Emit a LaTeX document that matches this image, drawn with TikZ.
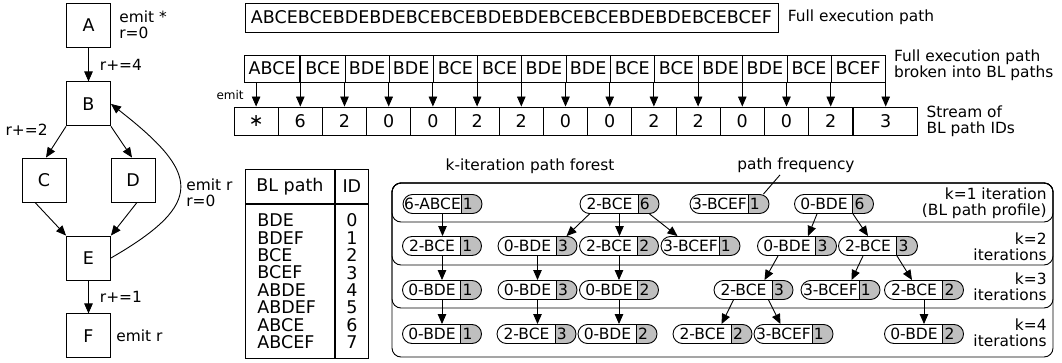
\documentclass[tikz,border=0pt]{standalone}
\usepackage{fontspec}
\setmainfont{DejaVu Sans}
\usetikzlibrary{arrows.meta,positioning}

\tikzset{
  blocknode/.style={draw, minimum width=44pt, minimum height=44pt,
                    font=\fontsize{17.5}{20}\selectfont},
  cellnode/.style={draw, inner sep=0pt,
                   font=\fontsize{17.5}{17.4}\selectfont},
  lblnode/.style={font=\fontsize{15.4}{16}\selectfont, inner sep=3pt},
  arr/.style={-{Triangle[length=10pt,width=8.5pt]}},
  pillnode/.style={draw, rounded corners=9.5pt, minimum height=19pt,
                   inner xsep=1pt, inner ysep=0pt,
                   font=\fontsize{15.5}{15.5}\selectfont,
                   path picture={
                     \fill[black!25, sharp corners]
                       ([xshift=-21pt]path picture bounding box.north east)
                       rectangle (path picture bounding box.south east);
                     \draw[sharp corners]
                       ([xshift=-21pt]path picture bounding box.north east)
                       -- ([xshift=-21pt]path picture bounding box.south east);}}
}

% path node of the forest: name, position, path, count
\newcommand\pillnode[4]{%
  \node[pillnode] (#1) at (#2) {\makebox[57pt]{#3}\makebox[20pt][l]{\hspace{2pt}#4}};}

\begin{document}
\begin{tikzpicture}[x=1pt,y=-1pt,line width=0.9pt]
\useasboundingbox (0,0) rectangle (1062,363);

%control flow graph
\node[blocknode] (A) at (88.5,25) {A};
\node[blocknode, below=34pt of A] (B) {B};
\node[blocknode] (C) at (44,180) {C};
\node[blocknode] (D) at (133,180) {D};
\node[blocknode] (E) at (88.5,258) {E};
\node[blocknode, below=33pt of E] (F) {F};

\draw[arr] (A) -- node[lblnode, right, xshift=8pt] {r+=4} (B);
\draw[arr] (B.south west) -- ([xshift=2pt]C.north);
\draw[arr] (B.south east) -- ([xshift=-1pt]D.north);
\draw[arr] ([xshift=-9pt]C.south) -- (E.north west);
\draw[arr] ([xshift=4pt]D.south) -- (E.north east);
\draw[arr] (E.east) to[out=30, in=-38, looseness=1.85]
   node[lblnode, right, align=left, xshift=3pt, yshift=-7pt] {emit r\\r=0} (B.east);
\draw[arr] (E) -- node[lblnode, right, xshift=8pt] {r+=1} (F);

\node[lblnode, right=5pt of A, align=left] (Alabel) {emit *\\r=0};
\node[lblnode, right=2pt of F] (Flabel) {emit r};
\node[lblnode, anchor=east] (BClabel) at ([xshift=-15pt,yshift=-3pt]B.south west) {r+=2};

%full path
\node[cellnode, minimum width=533pt, minimum height=29pt, inner xsep=2pt] (full)
   at (511.5,17.5) {ABCEBCEBDEBDEBCEBCEBDEBDEBCEBCEBDEBDEBCEBCEF};
\node[lblnode, right=6pt of full] (fullLabel) {Full execution path};

%stream of ids
\foreach \v [count=\i] in {∗,6,2,0,0,2,2,0,0,2,2,0,0,2}
  \node[cellnode, minimum width=44.2pt, minimum height=28pt] (s\i) at ({234+(\i-0.5)*44.2},121) {\v};
\node[cellnode, minimum width=64pt, minimum height=28pt, anchor=west] (s15) at (s14.east) {3};
\node[lblnode, right=5pt of s15, align=left] (streamLabel) {Stream of\\BL path IDs};

%BL paths
\coordinate (prow) at (0,68.5);
\node[cellnode, minimum width=55.3pt, minimum height=27pt, anchor=east] (p1) at (s2 |- prow) {ABCE};
\foreach \t [count=\i from 2] in {BCE,BDE,BDE,BCE,BCE,BDE,BDE,BCE,BCE,BDE,BDE,BCE}
  \node[cellnode, minimum width=44.2pt, minimum height=27pt] (p\i) at (s\i.east |- prow) {\t};
\node[cellnode, minimum width=54.1pt, minimum height=27pt, anchor=west] (p14) at (s14 |- prow) {BCEF};
\node[lblnode, right=5pt of p14, align=left, yshift=3pt] (pathsLabel) {Full execution path\\broken into BL paths};

\foreach \i in {1,...,15}
  \draw[arr] (s\i |- p1.south) -- (s\i.north);
\node[lblnode, anchor=east, font=\fontsize{12}{12}\selectfont] (emitLabel)
   at ([xshift=-9pt,yshift=12pt]s1.north) {emit};

%table of ids
\node[cellnode, minimum width=89pt, minimum height=34pt, anchor=north west] (th) at (245,169) {BL path};
\node[cellnode, minimum width=33pt, minimum height=34pt, anchor=west] (tid) at (th.east) {ID};
\node[cellnode, minimum width=89pt, minimum height=154pt, anchor=north west,
      text width=65pt, align=left] (tpaths) at (th.south west)
   {BDE\\BDEF\\BCE\\BCEF\\ABDE\\ABDEF\\ABCE\\ABCEF};
\node[cellnode, minimum width=33pt, minimum height=154pt, anchor=north west,
      align=center] (tids) at (tid.south west)
   {0\\1\\2\\3\\4\\5\\6\\7};

%forest frame
\foreach \yb in {222,265,308,357}
  \draw[rounded corners=9pt] (392,183) rectangle (1053,\yb);
\node[lblnode, anchor=east, align=right] (k1lbl) at (1050,203) {k=1 iteration\\(BL path profile)};
\node[lblnode, anchor=east, align=right] (k2lbl) at (1050,247) {k=2\\iterations};
\node[lblnode, anchor=east, align=right] (k3lbl) at (1050,287) {k=3\\iterations};
\node[lblnode, anchor=east, align=right] (k4lbl) at (1050,333) {k=4\\iterations};
\node[lblnode] (forestLabel) at (530,166) {k-iteration path forest};
\node[lblnode, inner sep=2pt] (freqLabel) at (796,165) {path frequency};

%forest nodes
\pillnode{k1a}{442.5,204}{6-ABCE}{1}
\pillnode{k1b}{619.5,204}{2-BCE}{6}
\pillnode{k1c}{729.5,204}{3-BCEF}{1}
\pillnode{k1d}{834,204}{0-BDE}{6}

\pillnode{k2a}{442,246}{2-BCE}{1}
\pillnode{k2b}{537.5,246}{0-BDE}{3}
\pillnode{k2c}{619,246}{2-BCE}{2}
\pillnode{k2d}{700.5,246}{3-BCEF}{1}
\pillnode{k2e}{797,246}{0-BDE}{3}
\pillnode{k2f}{878,246}{2-BCE}{3}

\pillnode{k3a}{442,290}{0-BDE}{1}
\pillnode{k3b}{537.5,290}{0-BDE}{3}
\pillnode{k3c}{619,290}{0-BDE}{2}
\pillnode{k3d}{753.5,290}{2-BCE}{3}
\pillnode{k3e}{840.5,290}{3-BCEF}{1}
\pillnode{k3f}{924,290}{2-BCE}{2}

\pillnode{k4a}{442,334}{0-BDE}{1}
\pillnode{k4b}{536.5,334}{2-BCE}{3}
\pillnode{k4c}{617.5,334}{0-BDE}{2}
\pillnode{k4d}{712.5,334}{2-BCE}{2}
\pillnode{k4e}{793.5,334}{3-BCEF}{1}
\pillnode{k4f}{924,334}{0-BDE}{2}

%forest edges
\foreach \s/\t in {k1a/k2a,k1b/k2c,k2a/k3a,k2b/k3b,k2c/k3c,k3a/k4a,k3b/k4b,k3c/k4c,k3f/k4f}
  \draw[arr] (\s.south) -- (\s.south |- \t.north);
\draw[arr] ([xshift=-30pt]k1b.south) -- ([xshift=29pt]k2b.north);
\draw[arr] ([xshift=30pt]k1b.south) -- ([xshift=-23pt]k2d.north);
\draw[arr] ([xshift=-17pt]k1d.south) -- ([xshift=11pt]k2e.north);
\draw[arr] ([xshift=19pt]k1d.south) -- ([xshift=-10pt]k2f.north);
\draw[arr] ([xshift=-19pt]k2e.south) -- ([xshift=11pt]k3d.north);
\draw[arr] ([xshift=-15pt]k2f.south) -- ([xshift=11pt]k3e.north);
\draw[arr] ([xshift=19pt]k2f.south) -- ([xshift=-12pt]k3f.north);
\draw[arr] ([xshift=-20pt]k3d.south) -- ([xshift=9pt]k4d.north);
\draw[arr] ([xshift=15pt]k3d.south) -- ([xshift=-13pt]k4e.north);

%frequency pointer
\draw ([xshift=-6pt]k1c.north east) -- ([xshift=-16pt]freqLabel.south);
\end{tikzpicture}
\end{document}
